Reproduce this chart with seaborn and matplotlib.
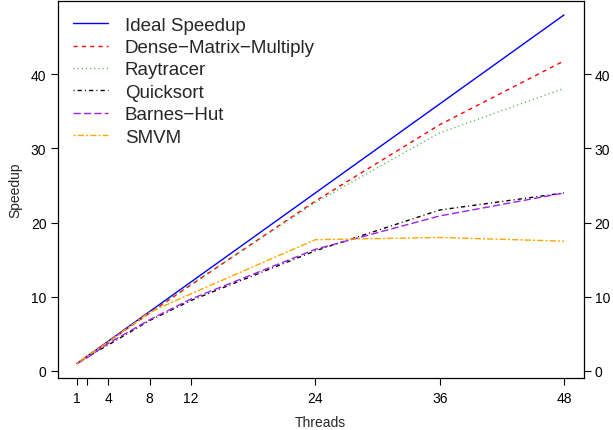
import matplotlib
matplotlib.use("Agg")
import matplotlib.pyplot as plt
import seaborn as sns
import pandas as pd

threads = [1, 2, 4, 8, 12, 24, 36, 48]
ideal = [1, 2, 4, 8, 12, 24, 36, 48]
dense_mm = [1, 2, 3.9, 7.8, 11.6, 22.9, 33.2, 41.8]
raytracer = [1, 2, 3.9, 7.8, 11.7, 22.7, 32.1, 38.1]
quicksort = [1, 1.9, 3.5, 6.8, 9.5, 16.2, 21.7, 24.0]
barnes_hut = [1, 1.8, 3.7, 6.9, 9.7, 16.4, 20.9, 24.0]
smvm = [1, 2, 3.9, 7.9, 10.4, 17.7, 18.0, 17.5]

names = ["Ideal Speedup", "Dense\u2212Matrix\u2212Multiply", "Raytracer",
         "Quicksort", "Barnes\u2212Hut", "SMVM"]
series = [ideal, dense_mm, raytracer, quicksort, barnes_hut, smvm]
colors = ["#0000FF", "#FF0000", "#3CB23C", "#000000", "#A020F0", "#FFA500"]
s = 0.75
dash_list = ["", (4*s, 4*s), (1*s, 3*s), (1*s, 3*s, 4*s, 3*s), (7*s, 3*s), (2*s, 2*s, 6*s, 2*s)]

rows = []
for n, vals in zip(names, series):
    for t, v in zip(threads, vals):
        rows.append({"Threads": t, "Speedup": v, "Series": n})
df = pd.DataFrame(rows)

sns.set_theme(style="white")
plt.rcParams['font.family'] = ['Liberation Sans', 'DejaVu Sans']

fig = plt.figure(figsize=(6.13, 4.31), dpi=100)
ax = fig.add_axes([57.5/613, 1-378.5/431, (583.5-57.5)/613, (378.5-2)/431])

sns.lineplot(data=df, x="Threads", y="Speedup", hue="Series", style="Series",
             palette=dict(zip(names, colors)), dashes=dict(zip(names, dash_list)),
             hue_order=names, style_order=names, linewidth=1, ax=ax, legend=True)

ax.set_xlim(1 - 47*0.04, 48 + 47*0.04)
ax.set_ylim(1 - 47*0.04, 48 + 47*0.04)

ax.set_xticks(threads)
ax.set_xticklabels(["1", "", "4", "8", "12", "24", "36", "48"])
ax.set_yticks([0, 10, 20, 30, 40])
ax.tick_params(axis="both", which="both", direction="out", length=5, width=0.8,
               colors="black", labelsize=10, pad=3,
               left=True, right=True, labelleft=True, labelright=True, bottom=True)
ax.tick_params(axis="x", pad=5)
for sp in ax.spines.values():
    sp.set_visible(True)
    sp.set_color("black")
    sp.set_linewidth(0.9)

ax.set_xlabel("Threads", fontsize=10, labelpad=7)
ax.set_ylabel("Speedup", fontsize=10, labelpad=6)

handles, labels = ax.get_legend_handles_labels()
ax.legend(handles, labels, loc="upper left", frameon=False, fontsize=13.5,
          handlelength=1.87, handletextpad=0.9, labelspacing=0.28,
          borderaxespad=0.43, bbox_to_anchor=(0.0, 1.0))

fig.savefig("out.png", dpi=100)
